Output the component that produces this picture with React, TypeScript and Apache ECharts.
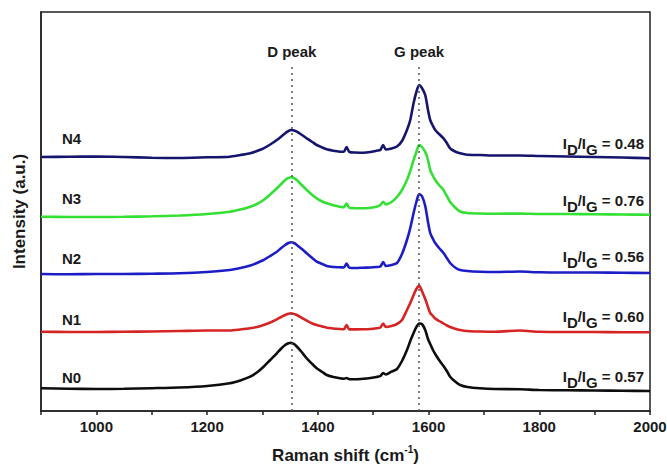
import React, { useEffect, useRef } from "react";
import * as echarts from "echarts";

// Raman shift (cm-1) sample positions
const wavenumbers = [
  900, 950, 1000, 1050, 1100, 1150, 1200, 1241, 1260, 1278,
  1290, 1302, 1314, 1326, 1334, 1341, 1347, 1352, 1357, 1362,
  1370, 1380, 1390, 1398, 1408, 1416, 1428, 1440, 1447, 1452,
  1457, 1468, 1482, 1495, 1506, 1513, 1518, 1523, 1533, 1543,
  1552, 1561, 1567, 1573, 1578, 1583, 1588, 1594, 1599, 1603,
  1608, 1612, 1619, 1627, 1633, 1639, 1648, 1657, 1670, 1693,
  1720, 1765, 1800, 1850, 1900, 1950, 2000,
];

// stacked intensities (a.u.)
const n4 = [
  254, 254.2, 254.5, 254, 253.2, 253, 253.7, 254.3, 256, 257.7,
  260, 262.7, 266.5, 271, 274.5, 277.7, 280, 281, 280.5, 279.3,
  276.5, 272.7, 269, 266, 263.5, 261.7, 260.3, 259.3, 259.2, 264,
  259, 258.5, 258.3, 259, 260.3, 261, 266, 261.5, 262.5, 264.5,
  270, 281, 291, 308, 319, 326, 323, 316, 301, 291,
  285, 281, 277, 272.7, 268, 262.7, 259.5, 257.7, 256.2, 256,
  255.5, 255.5, 255, 254.5, 254, 253.5, 252.7,
];
const n3 = [
  194.3, 194, 194, 194.2, 194.7, 195.5, 197, 199.3, 201.5, 204.3,
  207, 211, 216.5, 222.7, 227, 231, 233, 233.7, 233, 231,
  226.5, 221, 216, 212.7, 209.5, 207.7, 205.7, 204.3, 203.8, 207.5,
  203.2, 202.8, 202.7, 203.3, 204.3, 206, 209.3, 206.5, 209, 214,
  221, 231, 240, 251, 259, 266, 264, 259, 251, 241,
  235, 231, 226, 221, 215, 209, 203.5, 199.5, 198, 197.5,
  197.3, 197.5, 197, 197, 196.8, 196.5, 196.3,
];
const n2 = [
  137, 136.7, 137, 137, 137.3, 137.7, 139, 141, 143, 145.5,
  148, 151, 155, 159.3, 163, 166, 168, 168.7, 168, 166,
  162.5, 157.7, 153, 149.3, 147, 145, 144, 143.7, 143.5, 147.5,
  143.2, 143, 143.3, 143.5, 144, 144.5, 149, 145, 146, 148,
  157, 171, 183, 198, 209, 217, 215, 205, 189, 178,
  172, 168, 163, 158, 153, 148, 143.5, 141, 140, 139.3,
  139, 139.5, 138.7, 138.5, 138.5, 138.2, 138,
];
const n1 = [
  79.3, 79, 79, 79.2, 79.5, 80, 80.5, 80.5, 81.5, 82.7,
  84, 86, 88.5, 91.7, 94, 96, 97.2, 97.7, 97, 96,
  93.5, 90.3, 87.5, 86, 84.5, 83.3, 82.5, 82, 81.8, 86,
  81.6, 81.6, 81.7, 82, 82.7, 83.5, 87.5, 84, 85, 87,
  91, 101, 108, 116, 122, 125.5, 120, 112, 104, 98,
  95, 92.5, 90, 87.5, 85.5, 84, 82.2, 81, 80, 79.5,
  79.3, 80.5, 79.2, 79, 79, 78.8, 78.7,
];
const n0 = [
  22.7, 22.3, 22, 22.2, 22.8, 23.5, 25, 27.7, 30.5, 34.3,
  38.5, 44.3, 51, 57.7, 62.5, 66, 67.8, 68.3, 67, 64.5,
  59.5, 52.7, 47, 42.7, 39, 36, 34, 32.7, 32.2, 33,
  31.8, 31.7, 32.2, 33, 34, 35, 38, 36.5, 39.3, 42,
  50, 61, 70, 78, 84, 87.5, 87, 81, 72, 67,
  61, 57, 51, 45, 40, 34.3, 29.5, 26, 24, 22.7,
  22, 21.7, 21, 20.7, 20.5, 20.2, 20,
];

const sampleNames = ["N4", "N3", "N2", "N1", "N0"];
const ratios = ["0.48", "0.76", "0.56", "0.60", "0.57"];
const peakNames = ["D peak", "G peak"];
const peakPositions = [1353, 1583];
const xTicks = [1000, 1200, 1400, 1600, 1800, 2000];

const FONT = "'Liberation Sans', Arial, sans-serif";
const TXT = "#1a1a1a";

export default function App() {
  const ref = useRef<HTMLDivElement>(null);
  useEffect(() => {
    if (!ref.current) return;
    const chart = echarts.init(ref.current, null, { renderer: "svg" });
    const seriesData = [n4, n3, n2, n1, n0];
    const colors = ["#15156e", "#33e033", "#1d1dc6", "#d62424", "#0d0d0d"];
    const series: any[] = seriesData.map((vals, k) => ({
      name: sampleNames[k],
      type: "line",
      data: wavenumbers.map((x, i) => [x, vals[i]]),
      showSymbol: false,
      symbol: "none",
      smooth: 0.25,
      lineStyle: { color: colors[k], width: 2.6 },
      z: 3,
    }));
    series.push({
      type: "line",
      data: [],
      markLine: {
        silent: true,
        symbol: ["none", "none"],
        lineStyle: { type: [2, 4], color: "#555", width: 1.5 },
        label: {
          show: true,
          position: "end",
          distance: 6,
          color: TXT,
          fontFamily: FONT,
          fontWeight: "bold",
          fontSize: 15,
        },
        data: peakPositions.map((p, i) => [
          { coord: [p, 0], name: peakNames[i], label: { formatter: peakNames[i] } },
          { coord: [p, 346] },
        ]),
      },
      z: 1,
    });

    const leftY = [139, 199, 259, 320, 377.5];
    const rightY = [146, 203, 259, 319, 379];
    const graphics: any[] = [];
    sampleNames.forEach((n, k) => {
      graphics.push({
        type: "text",
        left: 62,
        top: leftY[k] - 8,
        style: { text: n, fill: TXT, font: `bold 15px ${FONT}` },
      });
      graphics.push({
        type: "text",
        x: 644,
        y: rightY[k],
        style: {
          text: `{a|I}{s|D}{a|/I}{s|G}{a| = ${ratios[k]}}`,
          align: "right",
          verticalAlign: "middle",
          fill: TXT,
          font: `bold 15px ${FONT}`,
          rich: {
            a: { font: `bold 15px ${FONT}`, fill: TXT, lineHeight: 21, verticalAlign: "top" },
            s: { font: `bold 15px ${FONT}`, fill: TXT, lineHeight: 21, verticalAlign: "bottom" },
          },
        },
      });
    });

    chart.setOption({
      animation: false,
      grid: {
        left: 41,
        right: 17,
        top: 12,
        bottom: 56,
        containLabel: false,
        outerBoundsMode: "none",
        show: true,
        borderColor: "#222",
        borderWidth: 1.5,
        backgroundColor: "transparent",
      },
      xAxis: {
        type: "value",
        min: 900,
        max: 2000,
        interval: 100,
        name: "{m|Raman shift (cm}{sup|-1}{m|)}",
        nameLocation: "middle",
        nameGap: 33,
        nameTextStyle: {
          rich: {
            m: { fontFamily: FONT, fontWeight: "bold", fontSize: 17, color: TXT, lineHeight: 20, verticalAlign: "bottom" },
            sup: { fontFamily: FONT, fontWeight: "bold", fontSize: 10, color: TXT, lineHeight: 20, verticalAlign: "top" },
          },
        },
        axisLine: { show: true, lineStyle: { color: "#222", width: 1.5 } },
        axisTick: { show: true, inside: false, length: 4, lineStyle: { color: "#222", width: 1.5 } },
        axisLabel: {
          color: TXT,
          fontFamily: FONT,
          fontWeight: "bold",
          fontSize: 15,
          margin: 8,
          formatter: (v: number) => (xTicks.includes(v) ? String(v) : ""),
        },
        splitLine: { show: false },
      },
      yAxis: {
        type: "value",
        min: 0,
        max: 399,
        name: "Intensity (a.u.)",
        nameLocation: "middle",
        nameGap: 13,
        nameTextStyle: { fontFamily: FONT, fontWeight: "bold", fontSize: 17, color: TXT },
        axisLine: { show: true, lineStyle: { color: "#222", width: 1.5 } },
        axisTick: { show: false },
        axisLabel: { show: false },
        splitLine: { show: false },
      },
      graphic: graphics,
      series,
    });
    return () => chart.dispose();
  }, []);
  return (
    <div
      ref={ref}
      style={{ position: "fixed", left: 0, top: 0, width: 667, height: 467, background: "#fff" }}
    />
  );
}
